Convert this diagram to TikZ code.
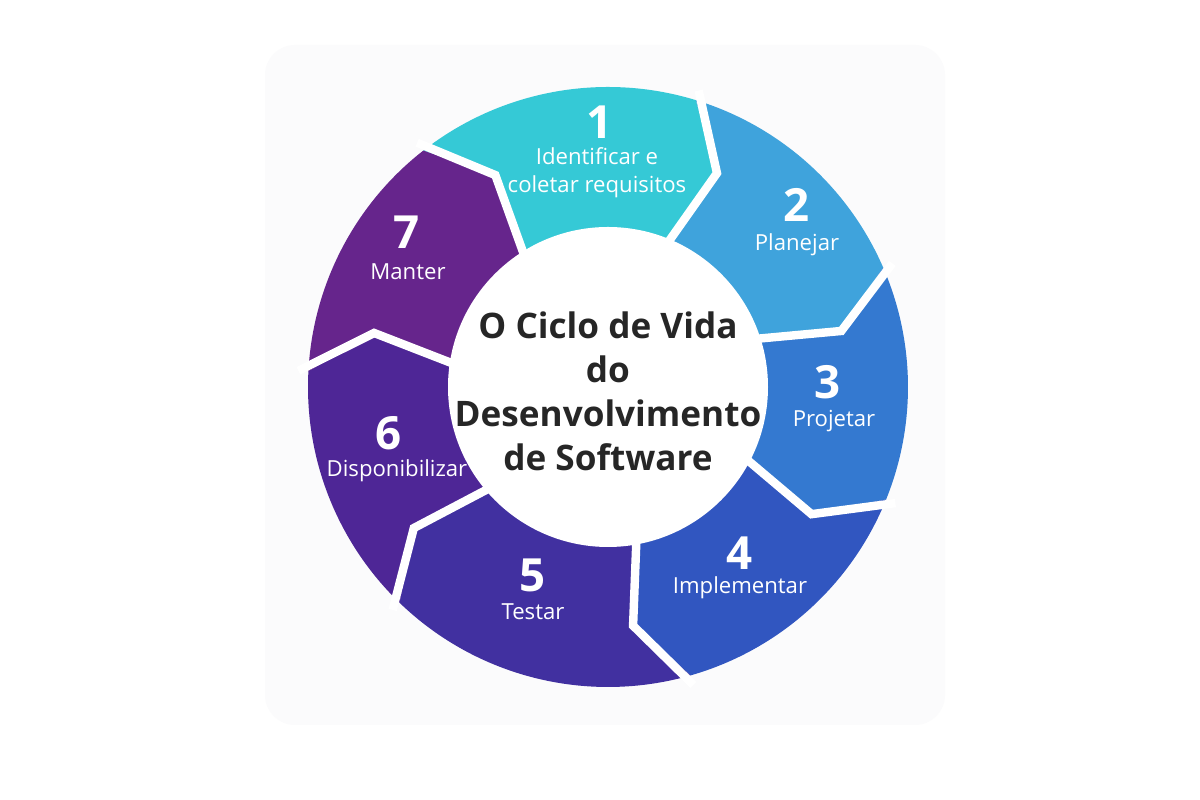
\documentclass[tikz,border=0pt]{standalone}
\usepackage{fontspec}
\setmainfont{Open Sans}
\definecolor{cA}{HTML}{35C9D6}
\definecolor{cB}{HTML}{3FA3DC}
\definecolor{cC}{HTML}{3479D0}
\definecolor{cD}{HTML}{3156C0}
\definecolor{cE}{HTML}{4130A0}
\definecolor{cF}{HTML}{4E2696}
\definecolor{cG}{HTML}{66258C}
\definecolor{bgc}{HTML}{FBFBFC}
\begin{document}
\begin{tikzpicture}[
  num/.style={text=white,font=\bfseries\fontsize{13}{14}\selectfont},
  lab/.style={text=white,font=\fontsize{6.3}{8}\selectfont,align=center},
  ttl/.style={text=black!85,font=\bfseries\fontsize{10}{12.5}\selectfont,align=center}]
\fill[white] (0,0) rectangle (12,8);
\useasboundingbox (0,0) rectangle (12,8);
\fill[bgc,rounded corners=0.3cm] (2.65,0.75) rectangle (9.45,7.55);
\begin{scope}[shift={(6.08,4.13)}]
\foreach \s/\e/\c in {128/73/cA,73/23.5/cB,23.5/-22/cC,-22/-74/cD,-74/-134/cE,-134/-183/cF,177/128/cG}{
  \fill[\c] (\s:3.0) arc[start angle=\s,end angle=\e,radius=3.0] -- (\e-10:2.4) -- (\e-5:1.5) -- (\s-5:1.5) -- (\s-10:2.4) -- cycle;
}
\foreach \s in {128,73,23.5,-22,-74,-134,177}{
  \draw[white,line width=2.4pt,line join=miter] (\s:3.1) -- (\s-10:2.4) -- (\s-5:1.5);
}
\fill[white] (0,0) circle (1.6);
\node[ttl] (t) at (0,-0.04) {O Ciclo de Vida\\do\\Desenvolvimento\\de Software};
\end{scope}
\node[num] (n1) at (6.00,6.78) {1};
\node[lab] (l1) at (5.97,6.27) {Identificar e\\coletar requisitos};
\node[num] (n2) at (7.97,5.95) {2};
\node[lab] (l2) at (7.97,5.55) {Planejar};
\node[num] (n3) at (8.28,4.18) {3};
\node[lab] (l3) at (8.34,3.79) {Projetar};
\node[num] (n4) at (7.40,2.47) {4};
\node[lab] (l4) at (7.40,2.12) {Implementar};
\node[num] (n5) at (5.33,2.25) {5};
\node[lab] (l5) at (5.33,1.88) {Testar};
\node[num] (n6) at (3.89,3.67) {6};
\node[lab] (l6) at (3.97,3.29) {Disponibilizar};
\node[num] (n7) at (4.07,5.68) {7};
\node[lab] (l7) at (4.08,5.28) {Manter};
\end{tikzpicture}
\end{document}
